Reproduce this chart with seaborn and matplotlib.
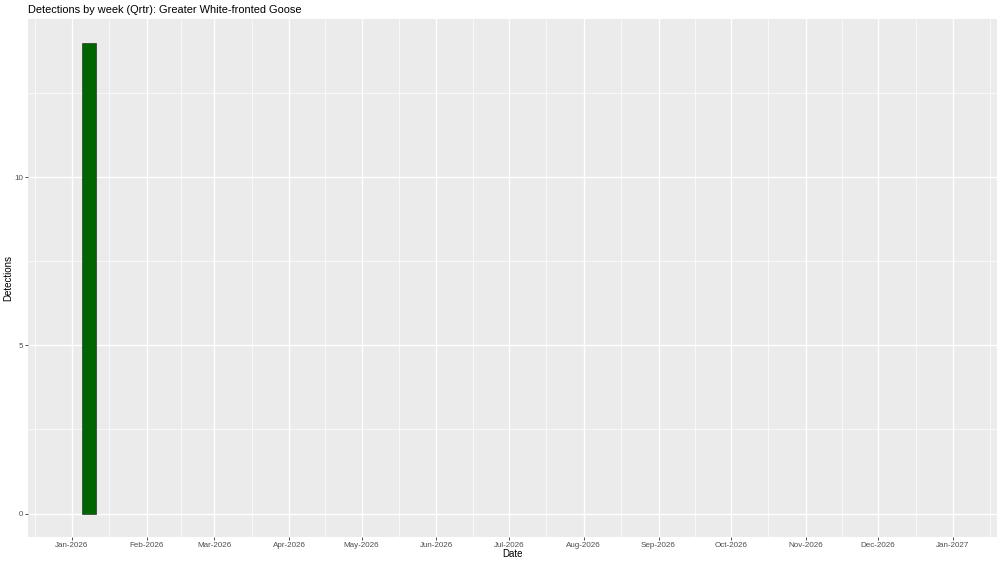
import matplotlib
matplotlib.use("Agg")
import matplotlib.pyplot as plt
import matplotlib.dates as mdates
import seaborn as sns
import pandas as pd
import numpy as np
from matplotlib.ticker import FixedLocator

# Data
week_dates = ["2026-01-08"]
detections = [14]
title = "Detections by week (Qrtr): Greater White-fronted Goose"
x_label = "Date"
y_label = "Detections"
y_ticks = [0, 5, 10]
month_ticks = pd.date_range("2026-01-01", "2027-01-01", freq="MS")

sns.set_theme(style="darkgrid")
plt.rcParams['font.family'] = ['Liberation Sans', 'DejaVu Sans']

df = pd.DataFrame({"date": mdates.date2num(pd.to_datetime(week_dates)),
                   "n": detections})

fig = plt.figure(figsize=(10, 5.63), dpi=100)
ax = fig.add_axes([0.028, 0.046, 0.969, 0.920])
ax.set_facecolor("#EBEBEB")

sns.barplot(data=df, x="date", y="n", native_scale=True, width=6.0,
            color="#006400", saturation=1, edgecolor="#1a1a1a",
            linewidth=0.4, ax=ax, zorder=3)

# limits: Jan 1 2026 - Jan 1 2027 with 5% expansion
x0 = mdates.date2num(pd.Timestamp("2026-01-01"))
x1 = mdates.date2num(pd.Timestamp("2027-01-01"))
pad = (x1 - x0) * 0.05
ax.set_xlim(x0 - pad, x1 + pad)
ymax = max(detections)
ax.set_ylim(-0.05 * ymax, ymax * 1.05)

major_x = mdates.date2num(month_ticks)
minor_x = list((major_x[:-1] + major_x[1:]) / 2)
minor_x = [major_x[0] - (major_x[1] - major_x[0]) / 2] + minor_x + [major_x[-1] + (major_x[-1] - major_x[-2]) / 2]
ax.xaxis.set_major_locator(FixedLocator(major_x))
ax.xaxis.set_minor_locator(FixedLocator(minor_x))
ax.set_xticklabels([d.strftime("%b-%Y") for d in month_ticks])

ax.yaxis.set_major_locator(FixedLocator(y_ticks))
ax.yaxis.set_minor_locator(FixedLocator([2.5, 7.5, 12.5]))
ax.set_yticklabels([str(v) for v in y_ticks])

ax.grid(which="major", color="white", linewidth=1.0, zorder=0)
ax.grid(which="minor", color="white", linewidth=0.5, zorder=0)
ax.set_axisbelow(True)
for s in ax.spines.values():
    s.set_visible(False)

ax.tick_params(axis="both", which="major", length=2.0, width=0.6, color="#333333",
               labelsize=5.8, labelcolor="#4D4D4D", pad=1.2, direction="out",
               bottom=True, left=True)
ax.tick_params(axis="both", which="minor", length=0)

ax.set_xlabel(x_label, fontsize=7, color="black")
ax.set_ylabel(y_label, fontsize=7, color="black")
ax.xaxis.set_label_coords(0.5, -0.032)
ax.yaxis.set_label_coords(-0.0205, 0.5)
ax.xaxis.label.set_va("center")
ax.yaxis.label.set_va("center")
fig.text(0.028, 0.983, title, fontsize=7.9, color="black", ha="left", va="center")

fig.savefig("out.png", dpi=100, facecolor="white")
